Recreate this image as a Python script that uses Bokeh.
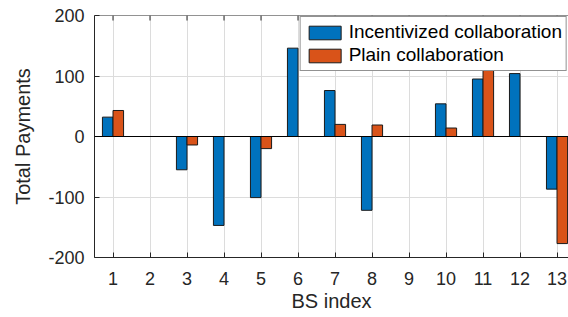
from bokeh.plotting import figure
from bokeh.models import ColumnDataSource, Span, FixedTicker, Range1d
from bokeh.transform import dodge
from bokeh.embed import file_html
from bokeh.resources import INLINE

bs_index = [1, 2, 3, 4, 5, 6, 7, 8, 9, 10, 11, 12, 13]
incentivized = [32, 0, -55, -147, -101, 146, 76, -122, 0, 54, 95, 104, -87]
plain = [43, 0, -14, 0, -20, 0, 20, 19, 0, 14, 112, 0, -177]
y_ticks = [-200, -100, 0, 100, 200]
y_tick_labels = {-200: "-200", -100: "-100", 0: "0", 100: "100", 200: "200"}

src = ColumnDataSource(dict(x=bs_index, inc=incentivized, pl=plain))

FONT = "Liberation Sans"
TXT = "#262626"
Y0, Y1 = -200, 200

p = figure(width=568, height=317, output_backend="svg", toolbar_location=None,
           x_range=Range1d(0.5, 13.31), y_range=Range1d(Y0, Y1),
           min_border_left=94, min_border_top=15, min_border_right=0, min_border_bottom=60)
p.outline_line_color = None
p.background_fill_color = "white"
p.border_fill_color = "white"

bw = 0.2857
p.vbar(x=dodge("x", -bw / 2, range=p.x_range), top="inc", bottom=0, width=bw, source=src,
       fill_color="#0072BD", line_color="#1a1a1a", line_width=1,
       legend_label="Incentivized collaboration")
p.vbar(x=dodge("x", bw / 2, range=p.x_range), top="pl", bottom=0, width=bw, source=src,
       fill_color="#D95319", line_color="#1a1a1a", line_width=1,
       legend_label="Plain collaboration")

p.add_layout(Span(location=0, dimension="width", line_color="#000000", line_width=1))
# top box edge with inward ticks
p.add_layout(Span(location=Y1, dimension="width", line_color=TXT, line_width=1))
p.segment(x0=bs_index, x1=bs_index, y0=[Y1] * len(bs_index),
          y1=[Y1 - 8.3] * len(bs_index), line_color=TXT, line_width=1)

for ax in (p.xaxis[0], p.yaxis[0]):
    ax.axis_line_color = TXT
    ax.major_tick_line_color = TXT
    ax.major_tick_in = 5
    ax.major_tick_out = 0
    ax.minor_tick_line_color = None
    ax.major_label_text_font = FONT
    ax.major_label_text_font_size = "18px"
    ax.major_label_text_color = TXT
    ax.axis_label_text_font = FONT
    ax.axis_label_text_font_size = "20px"
    ax.axis_label_text_font_style = "normal"
    ax.axis_label_text_color = TXT

p.xaxis[0].ticker = FixedTicker(ticks=bs_index)
p.yaxis[0].ticker = FixedTicker(ticks=y_ticks)
p.yaxis[0].major_label_overrides = y_tick_labels
p.xaxis[0].axis_label = "BS index"
p.yaxis[0].axis_label = "Total Payments"
p.xaxis[0].major_label_standoff = 14
p.yaxis[0].major_label_standoff = 10
p.xaxis[0].axis_label_standoff = 2
p.yaxis[0].axis_label_standoff = 11

p.xgrid.ticker = FixedTicker(ticks=bs_index)
p.ygrid.ticker = FixedTicker(ticks=y_ticks)
p.grid.grid_line_color = "#dcdcdc"
p.grid.grid_line_width = 1

lg = p.legend[0]
lg.location = "top_right"
lg.margin = 1
lg.padding = 4
lg.spacing = 1
lg.label_standoff = 4
lg.glyph_width = 40
lg.glyph_height = 17
lg.label_height = 17
lg.label_text_font = FONT
lg.label_text_font_size = "19px"
lg.label_text_color = "#000000"
lg.border_line_color = TXT
lg.border_line_width = 1
lg.background_fill_alpha = 1

open("out.html", "w").write(file_html(p, INLINE))
